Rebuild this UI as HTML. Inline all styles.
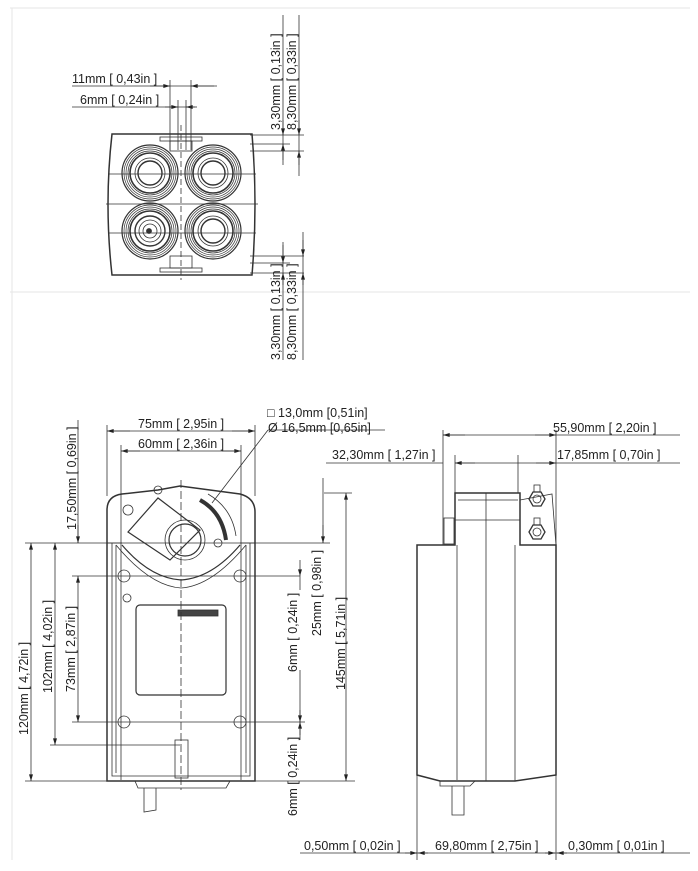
<!DOCTYPE html>
<html><head><meta charset="utf-8"><style>
html,body{margin:0;padding:0;background:#fff;}
svg{display:block;font-family:"Liberation Sans",sans-serif;}
text{font-size:12.5px;fill:#222;}
</style></head><body>
<svg width="698" height="871" viewBox="0 0 698 871" xmlns="http://www.w3.org/2000/svg">
<defs>
<marker id="a" viewBox="0 0 10 6" refX="10" refY="3" markerWidth="9" markerHeight="5" orient="auto-start-reverse"><path d="M0,0L10,3L0,6z" fill="#222"/></marker>
<g id="ring" fill="none" stroke="#333">
<circle r="28" stroke-width="1.2"/><circle r="26" stroke-width="0.7"/><circle r="24" stroke-width="0.7"/><circle r="22" stroke-width="0.7"/><circle r="20" stroke-width="1.6"/>
</g>
</defs>
<g stroke="#e6e6e6" stroke-width="1">
<line x1="10" y1="8" x2="690" y2="8"/><line x1="10" y1="292" x2="690" y2="292"/>
<line x1="12" y1="8" x2="12" y2="860"/>
</g>
<g stroke="#333" stroke-width="0.8" fill="none">
<path d="M112,134 L252,134 Q258,204 252,275 L112,275 Q104,204 112,134z" stroke-width="1.5"/>
<line x1="108" y1="174" x2="256" y2="174"/><line x1="106" y1="204" x2="258" y2="204"/><line x1="108" y1="233" x2="256" y2="233"/>
<rect x="160" y="137" width="42" height="4"/><rect x="170" y="141" width="22" height="10"/>
<rect x="160" y="268" width="42" height="4"/><rect x="170" y="256" width="22" height="12"/>
<use href="#ring" x="150" y="173"/><use href="#ring" x="213" y="173"/><use href="#ring" x="150" y="231"/><use href="#ring" x="213" y="231"/>
<circle cx="150" cy="173" r="15"/><circle cx="150" cy="173" r="12" stroke-width="1.4"/>
<circle cx="213" cy="173" r="15"/><circle cx="213" cy="173" r="12" stroke-width="1.4"/>
<circle cx="213" cy="231" r="15"/><circle cx="213" cy="231" r="12" stroke-width="1.4"/>
<circle cx="150" cy="231" r="15" stroke-width="1.4"/><circle cx="150" cy="231" r="11"/><circle cx="150" cy="231" r="7"/><circle cx="149" cy="231" r="2.5" fill="#333"/>
<line x1="181" y1="125" x2="181" y2="280" stroke-dasharray="6,3"/>
<line x1="170" y1="80" x2="170" y2="150"/><line x1="191" y1="80" x2="191" y2="150"/>
<line x1="178" y1="100" x2="178" y2="150"/><line x1="186" y1="100" x2="186" y2="150"/>
<line x1="72" y1="86" x2="217" y2="86"/><line x1="150" y1="86" x2="170" y2="86" marker-end="url(#a)"/><line x1="214" y1="86" x2="191" y2="86" marker-end="url(#a)"/>
<line x1="72" y1="107" x2="195" y2="107"/><line x1="165" y1="107" x2="178" y2="107" marker-end="url(#a)"/><line x1="197" y1="107" x2="186" y2="107" marker-end="url(#a)"/>
<line x1="250" y1="135" x2="304" y2="135"/><line x1="250" y1="144" x2="290" y2="144"/><line x1="250" y1="151" x2="304" y2="151"/>
<line x1="283" y1="15" x2="283" y2="165"/><line x1="299" y1="15" x2="299" y2="176"/>
<line x1="283" y1="120" x2="283" y2="135" marker-end="url(#a)"/><line x1="283" y1="160" x2="283" y2="144" marker-end="url(#a)"/>
<line x1="299" y1="120" x2="299" y2="135" marker-end="url(#a)"/><line x1="299" y1="165" x2="299" y2="151" marker-end="url(#a)"/>
<line x1="250" y1="256" x2="304" y2="256"/><line x1="250" y1="263" x2="290" y2="263"/><line x1="250" y1="273" x2="304" y2="273"/>
<line x1="283" y1="242" x2="283" y2="360"/><line x1="303" y1="232" x2="303" y2="360"/>
<line x1="283" y1="245" x2="283" y2="263" marker-end="url(#a)"/><line x1="283" y1="285" x2="283" y2="273" marker-end="url(#a)"/>
<line x1="303" y1="240" x2="303" y2="256" marker-end="url(#a)"/><line x1="303" y1="285" x2="303" y2="273" marker-end="url(#a)"/>

<path d="M107,781 L107,510 Q107,496 122,494 L158,490 L180,486 L240,494 Q255,498 255,512 L255,781z" stroke-width="1.5"/>
<path d="M112,543 L112,776 L250,776 L250,543"/>
<line x1="116" y1="545" x2="116" y2="773"/><line x1="246" y1="545" x2="246" y2="773"/>
<line x1="107" y1="543" x2="122" y2="543"/><line x1="240" y1="543" x2="255" y2="543"/>
<path d="M122,545 Q150,578 181,580 Q212,578 240,545" stroke-width="1.2"/>
<path d="M116,545 Q150,586 181,588 Q212,586 246,545"/>
<path d="M128,532 L158,498 L200,530 L170,560z" stroke-width="1.2"/>
<circle cx="185" cy="540" r="16" stroke-width="1.2"/><circle cx="185" cy="540" r="20"/>
<path d="M200,500 Q222,512 226,540" stroke-width="4"/><path d="M208,494 Q232,508 236,536"/>
<circle cx="218" cy="543" r="4"/><circle cx="128" cy="510" r="5"/><circle cx="158" cy="490" r="4"/>
<circle cx="124" cy="576" r="6"/><circle cx="240" cy="576" r="6"/><circle cx="124" cy="722" r="6"/><circle cx="240" cy="722" r="6"/>
<circle cx="127" cy="598" r="4"/>
<rect x="136" y="605" width="90" height="90" rx="4" stroke-width="1.2"/>
<rect x="178" y="610" width="40" height="6" fill="#444"/>
<rect x="175" y="740" width="13" height="38"/>
<path d="M135,781 L230,781 L226,788 L138,788z"/>
<path d="M144,788 L144,812 L156,810 L156,788"/>
<line x1="181" y1="480" x2="181" y2="790" stroke-dasharray="8,3"/>
<line x1="107" y1="425" x2="107" y2="496"/><line x1="255" y1="425" x2="255" y2="496"/>
<line x1="121" y1="445" x2="121" y2="780"/><line x1="241" y1="445" x2="241" y2="780"/>
<line x1="110" y1="431" x2="252" y2="431"/><line x1="130" y1="431" x2="107" y2="431" marker-end="url(#a)"/><line x1="232" y1="431" x2="255" y2="431" marker-end="url(#a)"/>
<line x1="140" y1="451" x2="121" y2="451" marker-end="url(#a)"/><line x1="222" y1="451" x2="241" y2="451" marker-end="url(#a)"/><line x1="121" y1="451" x2="241" y2="451"/>
<line x1="212" y1="503" x2="268" y2="430"/><line x1="268" y1="430" x2="385" y2="430"/>
<line x1="25" y1="543" x2="330" y2="543"/><line x1="25" y1="781" x2="355" y2="781"/>
<line x1="50" y1="745" x2="180" y2="745"/><line x1="72" y1="576" x2="300" y2="576"/><line x1="72" y1="722" x2="305" y2="722"/>
<line x1="31" y1="543" x2="31" y2="781" marker-start="url(#a)" marker-end="url(#a)"/>
<line x1="55" y1="543" x2="55" y2="745" marker-start="url(#a)" marker-end="url(#a)"/>
<line x1="78" y1="576" x2="78" y2="722" marker-start="url(#a)" marker-end="url(#a)"/>
<line x1="78" y1="420" x2="78" y2="543" /><line x1="78" y1="525" x2="78" y2="543" marker-end="url(#a)"/>
<line x1="300" y1="560" x2="300" y2="576" marker-end="url(#a)"/><line x1="300" y1="590" x2="300" y2="576"/><line x1="300" y1="670" x2="300" y2="722" /><line x1="300" y1="710" x2="300" y2="722" marker-end="url(#a)"/>
<line x1="300" y1="740" x2="300" y2="722"/><line x1="300" y1="735" x2="300" y2="722" marker-end="url(#a)"/>
<line x1="323" y1="478" x2="323" y2="543"/><line x1="323" y1="525" x2="323" y2="543" marker-end="url(#a)"/>
<line x1="324" y1="493" x2="352" y2="493"/>
<line x1="346" y1="493" x2="346" y2="781" marker-start="url(#a)" marker-end="url(#a)"/>

<path d="M417,545 L417,775 L440,781 L515,781 L556,775 L556,545 L520,545 L520,493 L455,493 L455,545z" stroke-width="1.5"/>
<line x1="457" y1="545" x2="457" y2="780"/><line x1="486" y1="493" x2="486" y2="781"/><line x1="515" y1="545" x2="515" y2="781"/>
<line x1="455" y1="520" x2="520" y2="520"/><line x1="458" y1="500" x2="518" y2="500"/>
<rect x="444" y="518" width="10" height="26"/>
<path d="M520,500 L552,494 L556,545"/>
<polygon points="529,499 533,492 541,492 545,499 541,506 533,506" stroke-width="1.3"/><circle cx="537" cy="499" r="4"/>
<polygon points="529,532 533,525 541,525 545,532 541,539 533,539" stroke-width="1.3"/><circle cx="537" cy="532" r="4"/>
<rect x="534" y="485" width="6" height="7"/><rect x="534" y="518" width="6" height="7"/>
<path d="M440,781 L440,786 L470,786 L475,781"/><path d="M452,786 L452,815 L464,815 L464,786"/>
<line x1="443" y1="430" x2="443" y2="545"/><line x1="455" y1="455" x2="455" y2="493"/><line x1="518" y1="455" x2="518" y2="493"/>
<line x1="556" y1="430" x2="556" y2="860"/><line x1="417" y1="545" x2="417" y2="860"/>
<line x1="443" y1="435" x2="680" y2="435"/><line x1="465" y1="435" x2="443" y2="435" marker-end="url(#a)"/><line x1="535" y1="435" x2="556" y2="435" marker-end="url(#a)"/>
<line x1="326" y1="463" x2="443" y2="463"/>
<line x1="455" y1="463" x2="680" y2="463"/><line x1="475" y1="463" x2="455" y2="463" marker-end="url(#a)"/><line x1="536" y1="463" x2="556" y2="463" marker-end="url(#a)"/>
<line x1="300" y1="853" x2="690" y2="853"/>
<line x1="405" y1="853" x2="417" y2="853" marker-end="url(#a)"/><line x1="428" y1="853" x2="418" y2="853" marker-end="url(#a)"/>
<line x1="545" y1="853" x2="555" y2="853" marker-end="url(#a)"/><line x1="567" y1="853" x2="557" y2="853" marker-end="url(#a)"/>
</g>
<text x="72" y="83">11mm [ 0,43in ]</text>
<text x="80" y="104">6mm [ 0,24in ]</text>
<text transform="translate(280,130) rotate(-90)">3,30mm [ 0,13in ]</text>
<text transform="translate(296,130) rotate(-90)">8,30mm [ 0,33in ]</text>
<text transform="translate(280,360) rotate(-90)">3,30mm [ 0,13in ]</text>
<text transform="translate(296,360) rotate(-90)">8,30mm [ 0,33in ]</text>
<text x="138" y="428">75mm [ 2,95in ]</text>
<text x="138" y="448">60mm [ 2,36in ]</text>
<text x="267" y="417">□  13,0mm [0,51in]</text>
<text x="268" y="432">Ø 16,5mm [0,65in]</text>
<text transform="translate(76,530) rotate(-90)">17,50mm [ 0,69in ]</text>
<text transform="translate(28,735) rotate(-90)">120mm [ 4,72in ]</text>
<text transform="translate(52,693) rotate(-90)">102mm [ 4,02in ]</text>
<text transform="translate(75,692) rotate(-90)">73mm [ 2,87in ]</text>
<text transform="translate(297,672) rotate(-90)">6mm [ 0,24in ]</text>
<text transform="translate(297,816) rotate(-90)">6mm [ 0,24in ]</text>
<text transform="translate(321,636) rotate(-90)">25mm [ 0,98in ]</text>
<text transform="translate(345,690) rotate(-90)">145mm [ 5,71in ]</text>
<text x="553" y="432">55,90mm [ 2,20in ]</text>
<text x="332" y="459">32,30mm [ 1,27in ]</text>
<text x="557" y="459">17,85mm [ 0,70in ]</text>
<text x="304" y="850">0,50mm [ 0,02in ]</text>
<text x="435" y="850">69,80mm [ 2,75in ]</text>
<text x="568" y="850">0,30mm [ 0,01in ]</text>
</svg>
</body></html>
